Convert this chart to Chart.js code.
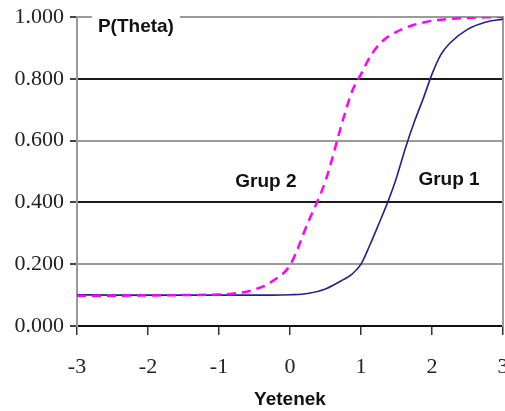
<!DOCTYPE html>
<html>
<head>
<meta charset="utf-8">
<script src="https://cdn.jsdelivr.net/npm/chart.js@4/dist/chart.umd.min.js"></script>
<style>
html,body{margin:0;padding:0;background:#fff;}
#wrap{width:505px;height:411px;position:relative;}
</style>
</head>
<body>
<div id="wrap"><canvas id="c" width="505" height="411"></canvas></div>
<script>
// ---- data ----
const theta = [-3, -2.5, -2, -1.5, -1, -0.75, -0.5, -0.25, 0, 0.25, 0.5, 0.75, 0.875, 1, 1.125, 1.25, 1.375, 1.5, 1.625, 1.75, 1.875, 2, 2.125, 2.25, 2.5, 2.75, 3];
const grup1 = [0.101, 0.100, 0.100, 0.100, 0.100, 0.100, 0.100, 0.100, 0.101, 0.105, 0.120, 0.150, 0.168, 0.200, 0.262, 0.330, 0.400, 0.480, 0.575, 0.660, 0.735, 0.815, 0.878, 0.915, 0.960, 0.983, 0.993];
const grup2 = [0.098, 0.098, 0.099, 0.100, 0.102, 0.106, 0.118, 0.145, 0.197, 0.333, 0.470, 0.670, 0.760, 0.815, 0.870, 0.910, 0.935, 0.952, 0.965, 0.975, 0.982, 0.988, 0.991, 0.994, 0.997, 0.999, 1.000];
const xTicks = [-3, -2, -1, 0, 1, 2, 3];
const yTicks = [0, 0.2, 0.4, 0.6, 0.8, 1.0];
const seriesNames = ['Grup 1', 'Grup 2'];
const axisTitleX = 'Yetenek';
const axisTitleY = 'P(Theta)';

// annotation anchors (data coordinates)
const labelGrup1 = {x: 2.24, y: 0.472};
const labelGrup2 = {x: -0.34, y: 0.466};
const labelPTheta = {x: -2.17, y: 0.97};

const toPts = (xs, ys) => xs.map((v, i) => ({x: v, y: ys[i]}));

const annotations = {
  id: 'annotations',
  afterDraw(chart) {
    const {ctx, scales: {x, y}} = chart;
    ctx.save();
    ctx.font = 'bold 19px "Liberation Sans", Arial, sans-serif';
    ctx.textAlign = 'center';
    ctx.textBaseline = 'middle';
    // P(Theta) box over the top border
    const px = x.getPixelForValue(labelPTheta.x), py = y.getPixelForValue(labelPTheta.y);
    const w = ctx.measureText(axisTitleY).width;
    ctx.fillStyle = '#fff';
    ctx.fillRect(px - w / 2 - 6, y.getPixelForValue(1) - 4, w + 12, 8);
    ctx.fillStyle = '#111';
    ctx.fillText(axisTitleY, px, py);
    ctx.fillText(seriesNames[1], x.getPixelForValue(labelGrup2.x), y.getPixelForValue(labelGrup2.y));
    ctx.fillText(seriesNames[0], x.getPixelForValue(labelGrup1.x), y.getPixelForValue(labelGrup1.y));
    ctx.restore();
  }
};

new Chart(document.getElementById('c'), {
  type: 'scatter',
  data: {
    datasets: [
      {
        label: seriesNames[1],
        data: toPts(theta, grup2),
        showLine: true,
        borderColor: '#ff00ff',
        borderWidth: 2.5,
        borderDash: [9, 6],
        pointRadius: 0,
        cubicInterpolationMode: 'monotone',
        fill: false
      },
      {
        label: seriesNames[0],
        data: toPts(theta, grup1),
        showLine: true,
        borderColor: '#22228c',
        borderWidth: 1.6,
        pointRadius: 0,
        cubicInterpolationMode: 'monotone',
        fill: false
      }
    ]
  },
  options: {
    responsive: false,
    animation: false,
    devicePixelRatio: 1,
    layout: {padding: {top: 17, right: 0, left: 0, bottom: 0}},
    plugins: {legend: {display: false}, tooltip: {enabled: false}, title: {display: false}},
    scales: {
      x: {
        type: 'linear',
        min: -3, max: 3,
        afterBuildTicks: s => { s.ticks = xTicks.map(v => ({value: v})); },
        afterFit: s => { s.height = 85; s.paddingLeft = 0; s.paddingRight = 0; },
        grid: {drawOnChartArea: false, drawTicks: true, tickLength: 9, color: '#333', lineWidth: 1.5},
        border: {display: true, color: '#111', width: 2},
        ticks: {
          font: {family: '"Liberation Serif", "Times New Roman", serif', size: 22},
          color: '#222',
          padding: 19,
          maxRotation: 0,
          autoSkip: false,
          callback: v => String(v)
        },
        title: {
          display: true,
          text: axisTitleX,
          font: {family: '"Liberation Sans", Arial, sans-serif', size: 19, weight: 'bold'},
          color: '#111',
          padding: {top: -4, bottom: 0}
        }
      },
      y: {
        type: 'linear',
        min: 0, max: 1,
        afterBuildTicks: s => { s.ticks = yTicks.map(v => ({value: v})); },
        afterFit: s => { s.width = 77; s.paddingTop = 0; s.paddingBottom = 0; },
        grid: {
          drawTicks: true,
          tickLength: 7,
          lineWidth: 2,
          color: c => (Math.round(c.tick.value * 10) % 4 === 0 ? '#1a1a1a' : '#9a9a9a'),
          tickColor: '#444'
        },
        border: {display: true, color: '#9a9a9a', width: 2},
        ticks: {
          font: {family: '"Liberation Serif", "Times New Roman", serif', size: 22},
          color: '#222',
          padding: 6,
          callback: v => Number(v).toFixed(3)
        }
      },
      y2: {
        type: 'linear',
        position: 'right',
        min: 0, max: 1,
        afterFit: s => { s.width = 2; s.paddingTop = 0; s.paddingBottom = 0; },
        grid: {drawOnChartArea: false, drawTicks: false},
        border: {display: true, color: '#9a9a9a', width: 2},
        ticks: {display: false}
      }
    }
  },
  plugins: [annotations]
});
</script>
</body>
</html>
